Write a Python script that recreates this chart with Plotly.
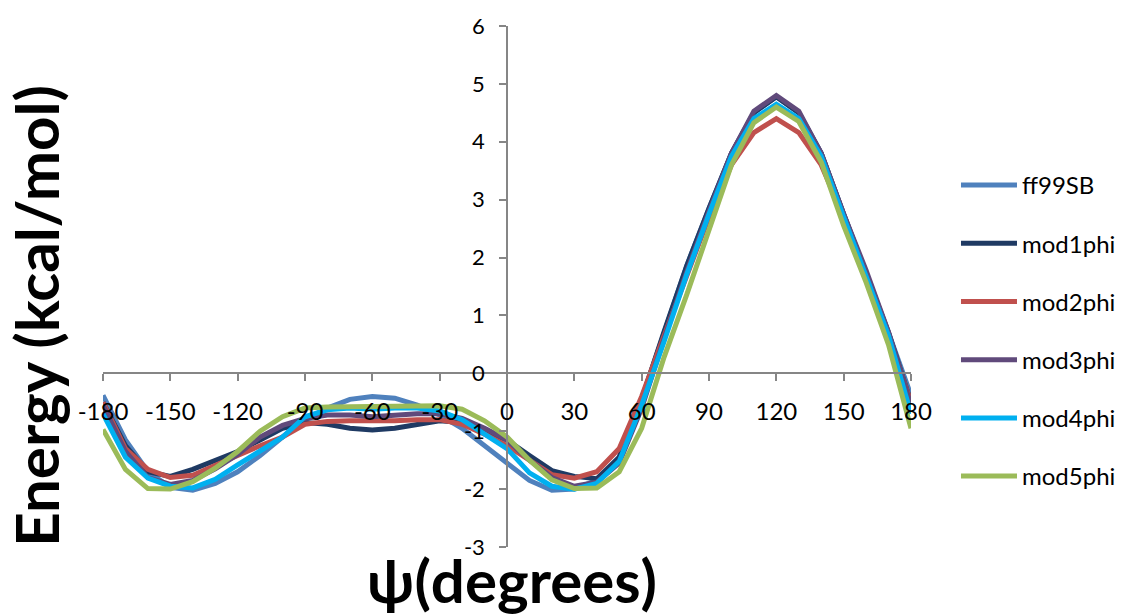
import plotly.graph_objects as go

# Torsion angle psi (degrees), sampled every 10 degrees
psi = list(range(-180, 181, 10))

# Relative energies (kcal/mol) for each force-field variant
ff99SB = [-0.38, -1.15, -1.70, -1.97, -2.02, -1.90, -1.70, -1.42, -1.10, -0.80,
          -0.60, -0.45, -0.40, -0.43, -0.55, -0.72, -0.95, -1.25, -1.55, -1.85,
          -2.02, -2.00, -1.85, -1.45, -0.45, 0.72, 1.85, 2.85, 3.80, 4.50,
          4.78, 4.50, 3.80, 2.75, 1.75, 0.70, -0.38]
mod1phi = [-0.50, -1.25, -1.70, -1.78, -1.66, -1.50, -1.35, -1.15, -0.95, -0.85,
           -0.88, -0.95, -0.98, -0.95, -0.88, -0.82, -0.85, -1.00, -1.15, -1.42,
           -1.68, -1.78, -1.82, -1.45, -0.45, 0.72, 1.85, 2.85, 3.80, 4.50,
           4.78, 4.50, 3.80, 2.75, 1.75, 0.70, -0.50]
mod2phi = [-0.50, -1.30, -1.66, -1.80, -1.76, -1.60, -1.42, -1.25, -1.10, -0.88,
           -0.83, -0.82, -0.83, -0.82, -0.80, -0.80, -0.88, -1.05, -1.25, -1.50,
           -1.75, -1.81, -1.70, -1.30, -0.40, 0.65, 1.70, 2.70, 3.60, 4.16,
           4.40, 4.16, 3.60, 2.70, 1.70, 0.65, -0.50]
mod3phi = [-0.55, -1.35, -1.80, -1.92, -1.85, -1.65, -1.40, -1.10, -0.90, -0.78,
           -0.72, -0.72, -0.75, -0.72, -0.70, -0.70, -0.78, -0.95, -1.15, -1.50,
           -1.80, -1.95, -1.88, -1.55, -0.60, 0.60, 1.75, 2.80, 3.80, 4.53,
           4.80, 4.53, 3.80, 2.75, 1.78, 0.71, -0.55]
mod4phi = [-0.70, -1.45, -1.81, -1.95, -1.98, -1.83, -1.58, -1.35, -1.10, -0.75,
           -0.63, -0.60, -0.62, -0.60, -0.60, -0.65, -0.80, -1.05, -1.30, -1.72,
           -1.95, -2.00, -1.90, -1.52, -0.55, 0.55, 1.70, 2.75, 3.75, 4.40,
           4.65, 4.40, 3.75, 2.70, 1.70, 0.65, -0.70]
mod5phi = [-0.97, -1.66, -1.99, -2.00, -1.87, -1.64, -1.35, -1.00, -0.75, -0.60,
           -0.58, -0.58, -0.58, -0.58, -0.58, -0.56, -0.62, -0.82, -1.10, -1.50,
           -1.84, -1.99, -1.98, -1.70, -0.95, 0.28, 1.35, 2.50, 3.60, 4.33,
           4.60, 4.35, 3.65, 2.55, 1.57, 0.49, -0.95]

series = [
    ("ff99SB", ff99SB, "#4F81BD"),
    ("mod1phi", mod1phi, "#1F3A63"),
    ("mod2phi", mod2phi, "#C0504D"),
    ("mod3phi", mod3phi, "#604A7B"),
    ("mod4phi", mod4phi, "#00B0F0"),
    ("mod5phi", mod5phi, "#9BBB59"),
]

# Tick values with plain hyphen-minus labels
x_ticks = list(range(-180, 181, 30))
x_tick_labels = [str(v) for v in x_ticks]
y_ticks = list(range(-3, 7))
y_tick_labels = [str(v) for v in y_ticks]

fig = go.Figure()
for name, values, color in series:
    fig.add_trace(go.Scatter(
        x=psi, y=values, name=name, mode="lines",
        legendgroup=name,
        line=dict(color=color, width=5),
    ))

axis_grey = "#868686"
fig.update_layout(
    width=1121, height=614,
    margin=dict(l=103, r=210, t=24, b=67),
    paper_bgcolor="white", plot_bgcolor="white",
    font=dict(family="Lato", color="black"),
    showlegend=True,
    # Legend placed in container coordinates so it does not push the margins
    legend=dict(
        xref="container", yref="container",
        x=0.8528, xanchor="left",
        y=0.7345, yanchor="top",
        maxheight=440,
        font=dict(size=24, family="Lato"),
        itemwidth=56, tracegroupgap=24,
        bgcolor="rgba(0,0,0,0)",
    ),
    xaxis=dict(
        range=[-180, 180], tickvals=x_ticks, ticktext=x_tick_labels,
        anchor="free", position=1/3,
        showline=True, linecolor=axis_grey, linewidth=1.5,
        ticks="outside", ticklen=7, tickcolor=axis_grey, tickwidth=1.5,
        tickfont=dict(size=24, family="Lato"),
        ticklabelstandoff=10,
        showgrid=False, zeroline=False,
    ),
    yaxis=dict(
        range=[-3, 6], tickvals=y_ticks, ticktext=y_tick_labels,
        anchor="free", position=0.5,
        showline=True, linecolor=axis_grey, linewidth=1.5,
        ticks="outside", ticklen=7, tickcolor=axis_grey, tickwidth=1.5,
        tickfont=dict(size=22, family="Lato"),
        ticklabelstandoff=10,
        showgrid=False, zeroline=False,
    ),
    annotations=[
        dict(text="<b>Energy (kcal/mol)</b>", textangle=-90,
             xref="paper", yref="paper", x=-0.083, y=0.4436,
             xanchor="center", yanchor="middle", showarrow=False,
             font=dict(size=60, family="Lato", color="black")),
        dict(text="<b>ψ(degrees)</b>",
             xref="paper", yref="paper", x=0.506, y=-0.063,
             xanchor="center", yanchor="middle", showarrow=False,
             font=dict(size=60, family="Lato", color="black")),
    ],
)

fig.write_html("out.html")
